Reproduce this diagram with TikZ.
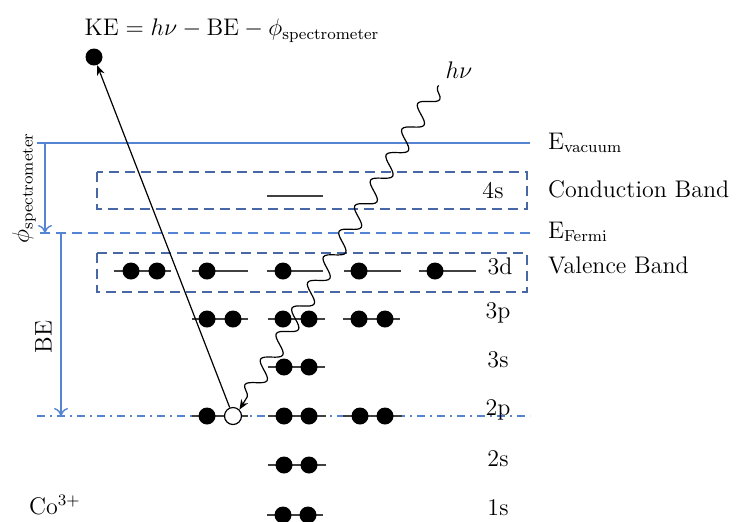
\documentclass[tikz,border=0pt]{standalone}
\usepackage{amsmath}
\usetikzlibrary{arrows.meta, decorations.pathmorphing}
\definecolor{levelblue}{RGB}{84,132,210}
\definecolor{bandblue}{RGB}{72,104,165}

\begin{document}
\begin{tikzpicture}[
		x=0.5pt, y=-0.5pt, font=\large,
		electron/.style={circle, fill=black, inner sep=0pt, minimum size=8.5pt},
		hole/.style={circle, draw=black, fill=white, inner sep=0pt, minimum size=8.5pt, line width=0.6pt},
		level/.style={draw=black!75, line width=0.8pt},
		energy/.style={draw=levelblue, line width=0.8pt},
		band/.style={draw=bandblue, dash pattern=on 5pt off 3pt, line width=0.8pt},
		measure/.style={levelblue, line width=0.7pt, -{To[length=4pt, width=7pt]}},
		arrow/.style={-{Stealth[length=5pt, width=4pt]}, line width=0.6pt},
		photon/.style={-{Stealth[length=5pt, width=4pt]}, line width=0.6pt, decorate,
			decoration={snake, amplitude=4.2pt, segment length=15pt, pre length=1pt, post length=5pt}}
		]
		\useasboundingbox (0,0) rectangle (743,521);
		
		% Energy references
		\draw[energy] (37,143) -- (530,143);
		\draw[energy, dash pattern=on 5pt off 3pt] (40,233) -- (530,233);
		\draw[energy, dash pattern=on 4pt off 2.5pt on 1pt off 2.5pt] (37,416) -- (530,416);
		\node[anchor=west] (evac) at (541,143) {E$_\mathrm{vacuum}$};
		\node[anchor=west] (efermi) at (541,232) {E$_\mathrm{Fermi}$};
		
		% Bands
		\draw[band] (97,172) rectangle (527,209);
		\draw[band] (97,253) rectangle (527,292);
		\node[anchor=west] (cband) at (541,189) {Conduction Band};
		\node[anchor=west] (vband) at (541,265) {Valence Band};
		
		% Levels
		\draw[level] (267,196) -- (323,196);
		\draw[level] (114,271) -- (171,271);
		\draw[level] (192,271) -- (248,271);
		\draw[level] (267,271) -- (323,271);
		\draw[level] (344,271) -- (401,271);
		\draw[level] (419,271) -- (476,271);
		\draw[level] (192,319) -- (248,319);
		\draw[level] (268,319) -- (325,319);
		\draw[level] (343,319) -- (400,319);
		\draw[level] (268,367) -- (325,367);
		\draw[level] (192,416) -- (248,416);
		\draw[level] (268,416) -- (326,416);
		\draw[level] (343,416) -- (402,416);
		\draw[level] (268,465) -- (326,465);
		\draw[level] (267,515) -- (323,515);
		
		% Level labels
		\node (l4s) at (493,191) {4s};
		\node (l3d) at (500,266) {3d};
		\node (l3p) at (498,313) {3p};
		\node (l3s) at (498,360) {3s};
		\node (l2p) at (498,410) {2p};
		\node (l2s) at (498,459) {2s};
		\node (l1s) at (498,508) {1s};
		\node[anchor=west] (ion) at (22,505) {Co$^{3+}$};
		
		% Electrons
		\node[electron] (d1) at (131,271) {};
		\node[electron] (d2) at (157,271) {};
		\node[electron] (d3) at (207,271) {};
		\node[electron] (d4) at (283,271) {};
		\node[electron] (d5) at (359,271) {};
		\node[electron] (d6) at (435,271) {};
		\node[electron] (p1) at (207,319) {};
		\node[electron] (p2) at (233,319) {};
		\node[electron] (p3) at (283,319) {};
		\node[electron] (p4) at (309,319) {};
		\node[electron] (p5) at (359,319) {};
		\node[electron] (p6) at (385,319) {};
		\node[electron] (s1) at (284,367) {};
		\node[electron] (s2) at (309,367) {};
		\node[electron] (q1) at (207,416) {};
		\node[hole] (h2p) at (233,416) {};
		\node[electron] (q3) at (284,416) {};
		\node[electron] (q4) at (309,416) {};
		\node[electron] (q5) at (360,416) {};
		\node[electron] (q6) at (385,416) {};
		\node[electron] (t1) at (284,465) {};
		\node[electron] (t2) at (309,465) {};
		\node[electron] (u1) at (283,515) {};
		\node[electron] (u2) at (308,515) {};
		
		% Photoelectron
		\node[electron] (ejected) at (94,57) {};
		\node (ke) at (232,31) {$\mathrm{KE} = h\nu - \mathrm{BE} - \phi_\mathrm{spectrometer}$};
		\node (hv) at (459,70) {$h\nu$};
		
		% Arrows
		\draw[arrow] (h2p) -- (ejected);
		\draw[photon] (hv.south west) -- (h2p.north east);
		
		\coordinate (phitop) at (45,143);
		\coordinate (phibot) at (45,233);
		\coordinate (betop) at (61,233);
		\coordinate (bebot) at (61,416);
		\draw[measure] (phitop) -- node[rotate=90, above=1pt, text=black] {$\phi_\mathrm{spectrometer}$} (phibot);
		\draw[measure] (betop) -- node[rotate=90, above=1pt, pos=0.57, text=black] {BE} (bebot);
		
	\end{tikzpicture}
\end{document}
